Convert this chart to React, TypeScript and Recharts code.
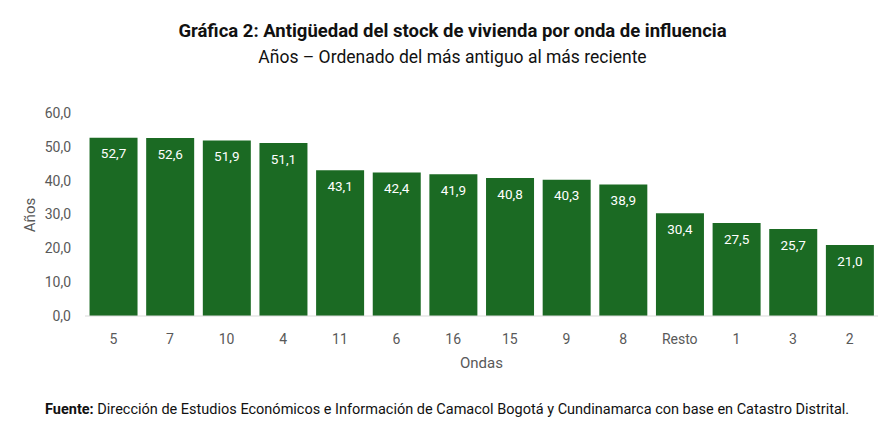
import React from "react";
import { BarChart, Bar, XAxis, YAxis, LabelList } from "recharts";

const ondas = ["5", "7", "10", "4", "11", "6", "16", "15", "9", "8", "Resto", "1", "3", "2"];
const anios = [52.7, 52.6, 51.9, 51.1, 43.1, 42.4, 41.9, 40.8, 40.3, 38.9, 30.4, 27.5, 25.7, 21.0];
const yTicks = [0, 10, 20, 30, 40, 50, 60];

const data = ondas.map((o, i) => ({ onda: o, valor: anios[i] }));

const FONT = "'Roboto', 'DejaVu Sans Condensed', sans-serif";
const fmt = (v: number) => v.toFixed(1).replace(".", ",");

export default function App() {
  return (
    <div style={{ position: "absolute", left: 0, top: 0, width: 893, height: 426, background: "#fff", fontFamily: FONT }}>
      <div style={{ position: "absolute", top: 19, left: 0, width: 905, textAlign: "center", fontSize: 18.5, fontWeight: 700, color: "#111", lineHeight: "24px" }}>
        Gráfica 2: Antigüedad del stock de vivienda por onda de influencia
      </div>
      <div style={{ position: "absolute", top: 45, left: 0, width: 905, textAlign: "center", fontSize: 17.5, color: "#111", lineHeight: "24px" }}>
        Años – Ordenado del más antiguo al más reciente
      </div>
      <BarChart
        width={893}
        height={426}
        data={data}
        margin={{ top: 113, right: 15, left: 25, bottom: 80 }}
        barCategoryGap="8%"
        style={{ position: "absolute", left: 0, top: 0 }}
      >
        <XAxis
          dataKey="onda"
          tickLine={false}
          axisLine={{ stroke: "#d9d9d9" }}
          tickMargin={12}
          tick={{ fill: "#595959", fontSize: 14, fontFamily: FONT }}
          interval={0}
          height={30}
          label={{ value: "Ondas", position: "insideBottom", offset: -22, fill: "#595959", fontSize: 15, fontFamily: FONT }}
        />
        <YAxis
          domain={[0, 60]}
          ticks={yTicks}
          tickFormatter={fmt}
          tickLine={false}
          axisLine={false}
          tickMargin={8}
          width={60}
          tick={{ fill: "#595959", fontSize: 14, fontFamily: FONT }}
        />
        <Bar dataKey="valor" fill="#1b6a23" isAnimationActive={false}>
          <LabelList dataKey="valor" position="insideTop" offset={11} formatter={(v: any) => fmt(Number(v))} fill="#ffffff" fontSize={13.5} fontFamily={FONT} />
        </Bar>
      </BarChart>
      <div style={{ position: "absolute", left: 30, top: 215, width: 0, height: 0 }}>
        <div style={{ position: "absolute", left: -30, top: -10, width: 60, lineHeight: "20px", textAlign: "center", transform: "rotate(-90deg)", fontSize: 15, color: "#595959" }}>
          Años
        </div>
      </div>
      <div style={{ position: "absolute", top: 400, left: 45, fontSize: 14.5, color: "#111", lineHeight: "20px", whiteSpace: "nowrap" }}>
        <b>Fuente:</b> Dirección de Estudios Económicos e Información de Camacol Bogotá y Cundinamarca con base en Catastro Distrital.
      </div>
    </div>
  );
}
